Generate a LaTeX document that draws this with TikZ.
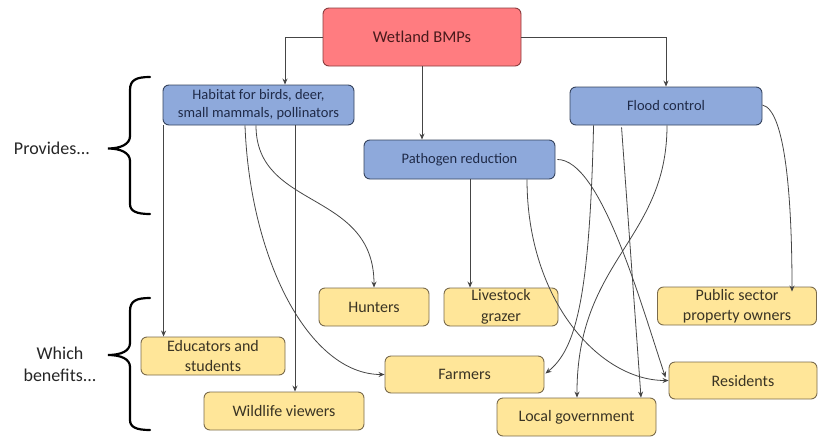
\documentclass[tikz,border=0pt]{standalone}
\usepackage{fontspec}
\setmainfont{Carlito}
\usetikzlibrary{arrows.meta,calc}
\definecolor{redfill}{HTML}{FF7C80}
\definecolor{redline}{HTML}{8A3B3D}
\definecolor{redtext}{HTML}{4A1A1C}
\definecolor{bluefill}{HTML}{8EA9DB}
\definecolor{blueline}{HTML}{35435E}
\definecolor{bluetext}{HTML}{1F2A48}
\definecolor{yelfill}{HTML}{FFE699}
\definecolor{yelline}{HTML}{7A6B4C}
\definecolor{yeltext}{HTML}{3A3424}
\definecolor{linecol}{HTML}{454545}
\begin{document}
\begin{tikzpicture}[x=1pt,y=-1pt,
  basebox/.style={rounded corners=6pt, line width=0.9pt, align=center, inner sep=0pt},
  redbox/.style={basebox, fill=redfill, draw=redline, text=redtext, font=\fontsize{16.5}{20}\selectfont},
  bluebox/.style={basebox, fill=bluefill, draw=blueline, text=bluetext, font=\fontsize{14.5}{18}\selectfont},
  yelbox/.style={basebox, fill=yelfill, draw=yelline, text=yeltext, font=\fontsize{16}{20.5}\selectfont},
  lbl/.style={align=center, text=black!85, font=\fontsize{18}{22}\selectfont},
  arr/.style={draw=linecol, line width=0.8pt, -{Stealth[length=6pt,width=5pt]}},
  brace/.style={draw=black, line width=2.2pt, line cap=round}
]
\useasboundingbox (0,0) rectangle (818,439);

% top nodes
\node[redbox, minimum width=198pt, minimum height=58pt] (wet) at (422,37) {Wetland BMPs};
\node[bluebox, minimum width=191pt, minimum height=40pt] (hab) at (258.5,105) {Habitat for birds, deer,\\small mammals, pollinators};
\node[bluebox, minimum width=191pt, minimum height=39pt] (pat) at (459.5,159.5) {Pathogen reduction};
\node[bluebox, minimum width=192pt, minimum height=38pt] (flo) at (666,106) {Flood control};

% beneficiaries
\node[yelbox, minimum width=110pt, minimum height=38pt] (hun) at (374,307) {Hunters};
\node[yelbox, minimum width=114pt, minimum height=38pt] (liv) at (501,307) {Livestock\\grazer};
\node[yelbox, minimum width=159pt, minimum height=38pt] (pub) at (737,306) {Public sector\\property owners};
\node[yelbox, minimum width=144pt, minimum height=38pt] (edu) at (213,356) {Educators and\\students};
\node[yelbox, minimum width=159pt, minimum height=37pt] (far) at (464.5,374.5) {Farmers};
\node[yelbox, minimum width=148pt, minimum height=37pt] (res) at (743,380.5) {Residents};
\node[yelbox, minimum width=160pt, minimum height=38pt] (wil) at (284,411) {Wildlife viewers};
\node[yelbox, minimum width=159pt, minimum height=38pt] (loc) at (576.5,417) {Local government};

% side labels
\node[lbl] (prov) at (52,148) {Provides...};
\node[lbl] (whic) at (60,364) {Which\\benefits...};

% braces
\draw[brace] (150,77) .. controls (136,77) and (130,80) .. (130,90) -- (130,136)
  .. controls (130,144) and (121,148.5) .. (108,148.5)
  .. controls (121,148.5) and (130,153) .. (130,161) -- (130,204)
  .. controls (130,211) and (136,214) .. (150,214);
\draw[brace] (150,298) .. controls (136,298) and (130,301) .. (130,311) -- (130,343)
  .. controls (130,351) and (121,355) .. (108,355)
  .. controls (121,355) and (130,359) .. (130,367) -- (130,420)
  .. controls (130,427) and (136,430) .. (150,430);

% top connectors
\draw[arr] (wet.west) -| ($(hab.north)+(26.5,0)$);
\draw[arr] (wet.east) -| (flo.north);
\draw[arr] (wet.south) -- (wet.south |- pat.north);

% habitat connectors
\coordinate (h1) at ($(hab.south west)+(1,0)$);
\coordinate (h2) at ($(hab.south)+(36.5,0)$);
\coordinate (h3) at ($(hab.south)+(-2.5,0)$);
\coordinate (h4) at ($(hab.south)+(-13.5,0)$);
\draw[arr] (h1) -- (h1 |- edu.north);
\draw[arr] (h2) -- (h2 |- wil.north);
\draw[arr] (h3) .. controls ($(h3)+(0,85)$) and ($(hun.north)+(0,-98)$) .. (hun.north);
\draw[arr] (h4) .. controls ($(h4)+(5,135)$) and ($(far.west)+(-75,0)$) .. (far.west);

% pathogen connectors
\coordinate (p1) at ($(pat.south)+(10.5,0)$);
\coordinate (p2) at ($(pat.south)+(67.5,0)$);
\coordinate (p3) at ($(pat.east)+(2,0)$);
\draw[arr] (p1) -- (p1 |- liv.north);
\draw[arr] (p2) .. controls ($(p2)+(0,121)$) and ($(res.west)+(-69,0)$) .. (res.west);
\draw[arr] (p3) .. controls ($(p3)+(43,0)$) and ($(res.west)+(-29,-81)$) .. ($(res.west)+(-3,-3)$);

% flood control connectors
\coordinate (f1) at ($(flo.south west)+(24,0)$);
\coordinate (f2) at ($(flo.south west)+(52,2)$);
\coordinate (f3) at ($(flo.south)+(1,0)$);
\coordinate (f4) at ($(flo.east)+(0,-1)$);
\draw[arr] (f1) .. controls ($(f1)+(-4,175)$) and ($(far.east)+(31,-25)$) .. ($(far.east)+(1,-1)$);
\draw[arr] (f2) -- ($(loc.north)+(64.5,0)$);
\draw[arr] (f3) .. controls ($(f3)+(0,115)$) and ($(loc.north)+(0,-138)$) .. ($(loc.north)+(0.5,0)$);
\draw[arr] (f4) .. controls ($(f4)+(23,5)$) and ($(pub.north)+(55,-87)$) .. ($(pub.north)+(55,5)$);
\end{tikzpicture}
\end{document}
